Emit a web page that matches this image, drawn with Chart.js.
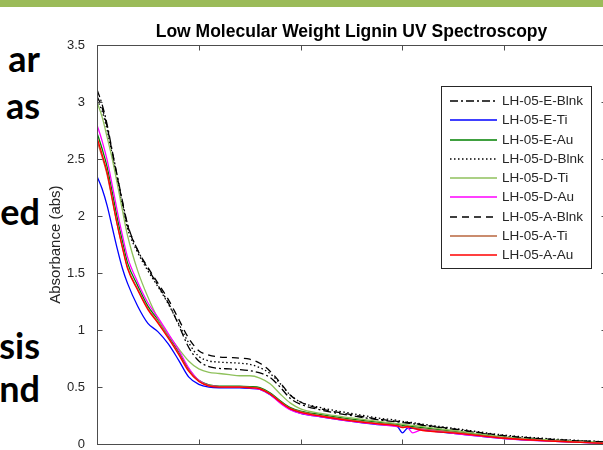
<!DOCTYPE html>
<html>
<head>
<meta charset="utf-8">
<script src="https://cdn.jsdelivr.net/npm/chart.js@4.4.0/dist/chart.umd.min.js"></script>
<style>
  html, body { margin: 0; padding: 0; width: 603px; height: 450px; overflow: hidden; background: #fff; }
  #bar { position: absolute; left: 0; top: 0; width: 603px; height: 7px; background: #9bbb59; }
  .slide { position: absolute; right: 563px; font: bold 36px Lato, 'Open Sans', sans-serif; color: #000; line-height: 36px; white-space: nowrap; }
  #wrap { position: absolute; left: 0; top: 0; width: 615px; height: 464px; }
</style>
</head>
<body>
<div id="bar"></div>
<div class="slide" style="top:40px">ar</div>
<div class="slide" style="top:87px">as</div>
<div class="slide" style="top:193px">ed</div>
<div class="slide" style="top:327px">sis</div>
<div class="slide" style="top:370px">nd</div>
<div id="wrap"><canvas id="uvChart" width="615" height="464"></canvas></div>
<script>
// Wavelength grid (nm) - the x tick labels are cut off in the source picture
const wavelengths = [200, 205, 210, 215, 220, 225, 230, 240, 250, 260, 270, 280, 290, 300, 310, 320, 330, 340,
    350, 360, 370, 380, 390, 400, 420, 450, 480, 495, 500, 505, 510, 520, 550, 600, 650, 697];

// Absorbance readings, one array per sample
const eBlnk = [3.11, 2.98, 2.80, 2.57, 2.35, 2.13, 1.93, 1.70, 1.54, 1.39, 1.24, 1.05, 0.85, 0.73, 0.68, 0.665, 0.66, 0.655,
    0.645, 0.625, 0.585, 0.50, 0.40, 0.35, 0.30, 0.25, 0.21, 0.195, 0.19, 0.185, 0.18, 0.165, 0.13, 0.07, 0.04, 0.02];
const eTi = [2.35, 2.24, 2.09, 1.90, 1.71, 1.54, 1.41, 1.21, 1.06, 0.985, 0.88, 0.74, 0.59, 0.525, 0.50, 0.495, 0.495, 0.495,
    0.49, 0.48, 0.435, 0.365, 0.305, 0.27, 0.24, 0.20, 0.17, 0.155, 0.10, 0.14, 0.14, 0.125, 0.095, 0.05, 0.025, 0.008];
const eAu = [2.73, 2.59, 2.43, 2.21, 1.98, 1.78, 1.59, 1.39, 1.21, 1.09, 0.95, 0.81, 0.66, 0.56, 0.52, 0.51, 0.51, 0.51,
    0.505, 0.495, 0.45, 0.38, 0.32, 0.29, 0.26, 0.22, 0.19, 0.175, 0.165, 0.16, 0.155, 0.145, 0.115, 0.06, 0.03, 0.012];
const dBlnk = [3.02, 2.92, 2.75, 2.53, 2.31, 2.09, 1.89, 1.68, 1.52, 1.38, 1.23, 1.06, 0.89, 0.77, 0.73, 0.72, 0.715, 0.71,
    0.70, 0.67, 0.62, 0.53, 0.43, 0.37, 0.32, 0.27, 0.225, 0.21, 0.20, 0.195, 0.19, 0.175, 0.14, 0.08, 0.045, 0.022];
const dTi = [3.00, 2.87, 2.69, 2.50, 2.28, 2.05, 1.83, 1.52, 1.29, 1.10, 0.96, 0.84, 0.73, 0.66, 0.63, 0.62, 0.61, 0.60,
    0.60, 0.58, 0.53, 0.44, 0.36, 0.31, 0.27, 0.23, 0.195, 0.18, 0.175, 0.17, 0.165, 0.155, 0.12, 0.065, 0.035, 0.015];
const dAu = [2.80, 2.66, 2.49, 2.27, 2.04, 1.83, 1.64, 1.42, 1.24, 1.11, 0.97, 0.83, 0.67, 0.56, 0.515, 0.505, 0.50, 0.50,
    0.495, 0.48, 0.435, 0.36, 0.30, 0.27, 0.24, 0.20, 0.17, 0.155, 0.15, 0.145, 0.10, 0.13, 0.095, 0.05, 0.025, 0.01];
const aBlnk = [3.05, 2.95, 2.78, 2.56, 2.34, 2.12, 1.92, 1.70, 1.55, 1.41, 1.27, 1.10, 0.93, 0.82, 0.78, 0.765, 0.76, 0.755,
    0.745, 0.71, 0.64, 0.54, 0.43, 0.37, 0.31, 0.26, 0.215, 0.20, 0.195, 0.19, 0.185, 0.17, 0.135, 0.075, 0.04, 0.02];
const aTi = [2.66, 2.52, 2.36, 2.14, 1.92, 1.73, 1.55, 1.36, 1.19, 1.07, 0.94, 0.80, 0.65, 0.555, 0.515, 0.505, 0.505, 0.505,
    0.50, 0.49, 0.445, 0.375, 0.315, 0.285, 0.25, 0.21, 0.18, 0.165, 0.155, 0.15, 0.145, 0.135, 0.105, 0.055, 0.028, 0.01];
const aAu = [2.69, 2.54, 2.38, 2.15, 1.92, 1.72, 1.54, 1.35, 1.18, 1.06, 0.93, 0.79, 0.64, 0.55, 0.51, 0.50, 0.50, 0.50,
    0.495, 0.485, 0.44, 0.37, 0.31, 0.28, 0.245, 0.205, 0.175, 0.16, 0.145, 0.155, 0.14, 0.12, 0.10, 0.052, 0.026, 0.008];

const seriesLabels = ['LH-05-E-Blnk', 'LH-05-E-Ti', 'LH-05-E-Au', 'LH-05-D-Blnk', 'LH-05-D-Ti',
    'LH-05-D-Au', 'LH-05-A-Blnk', 'LH-05-A-Ti', 'LH-05-A-Au'];
const seriesValues = [eBlnk, eTi, eAu, dBlnk, dTi, dAu, aBlnk, aTi, aAu];

const chartTitle = 'Low Molecular Weight Lignin UV Spectroscopy';
const yTickValues = [0, 0.5, 1, 1.5, 2, 2.5, 3, 3.5];
const yTickLabels = ['0', '0.5', '1', '1.5', '2', '2.5', '3', '3.5'];
const xTickValues = [200, 300, 400, 500, 600, 700];

// line look, MATLAB style
const lineColors = ['#000000', '#0000ff', '#008000', '#000000', '#8fc15c', '#ff00ff', '#000000', '#b8663e', '#ff0000'];
const lineDashes = [[8, 3, 2, 3], [], [], [1.5, 2.5], [], [], [7, 5], [], []];

const axisColor = '#4d4d4d';
const textColor = '#262626';
const fontFamily = '"Liberation Sans", Arial, sans-serif';

const datasets = seriesValues.map((vals, i) => ({
    label: seriesLabels[i],
    data: vals.map((v, j) => ({ x: wavelengths[j], y: v })),
    borderColor: lineColors[i],
    borderDash: lineDashes[i],
    borderWidth: 1.3,
    pointRadius: 0,
    cubicInterpolationMode: 'monotone',
    fill: false,
    order: seriesValues.length - i
}));

// title centred over the plot box, box with inward ticks on all four sides
const matlabBox = {
    id: 'matlabBox',
    afterDatasetsDraw(chart) {
        const { ctx, chartArea: a, scales: { x, y } } = chart;
        const L = Math.round(a.left) + 0.5, R = Math.round(a.right) + 0.5;
        const T = Math.round(a.top) + 0.5, B = Math.round(a.bottom) + 0.5;
        ctx.save();
        ctx.fillStyle = '#000';
        ctx.font = 'bold 17.5px ' + fontFamily;
        ctx.textAlign = 'center';
        ctx.textBaseline = 'middle';
        ctx.fillText(chartTitle, (a.left + a.right) / 2, a.top - 13);

        ctx.strokeStyle = axisColor;
        ctx.lineWidth = 1;
        ctx.strokeRect(L, T, R - L, B - T);
        ctx.beginPath();
        xTickValues.forEach(v => {
            const px = Math.round(x.getPixelForValue(v)) + 0.5;
            ctx.moveTo(px, B); ctx.lineTo(px, B - 5);
            ctx.moveTo(px, T); ctx.lineTo(px, T + 5);
        });
        yTickValues.forEach(v => {
            const py = Math.round(y.getPixelForValue(v)) + 0.5;
            ctx.moveTo(L, py); ctx.lineTo(L + 5, py);
            ctx.moveTo(R, py); ctx.lineTo(R - 5, py);
        });
        ctx.stroke();
        ctx.restore();
    }
};

// legend box inside the plot, top right
const legendBox = {
    id: 'legendBox',
    afterDraw(chart) {
        const { ctx, chartArea: a } = chart;
        const left = Math.round(a.right) - 165, top = Math.round(a.top) + 41, w = 150, h = 182;
        ctx.save();
        ctx.fillStyle = '#fff';
        ctx.fillRect(left, top, w, h);
        ctx.strokeStyle = textColor;
        ctx.lineWidth = 1;
        ctx.strokeRect(left + 0.5, top + 0.5, w, h);
        ctx.font = '13.5px ' + fontFamily;
        ctx.textBaseline = 'middle';
        chart.data.datasets.forEach((ds, i) => {
            const yy = Math.round(top + 15 + i * 19.25);
            ctx.strokeStyle = lineColors[i];
            ctx.lineWidth = 1.5;
            ctx.setLineDash(lineDashes[i]);
            ctx.beginPath();
            ctx.moveTo(left + 9, yy);
            ctx.lineTo(left + 56, yy);
            ctx.stroke();
            ctx.setLineDash([]);
            ctx.fillStyle = textColor;
            ctx.fillText(ds.label, left + 61, yy);
        });
        ctx.restore();
    }
};

new Chart(document.getElementById('uvChart'), {
    type: 'line',
    data: { datasets: datasets },
    plugins: [matlabBox, legendBox],
    options: {
        responsive: false,
        animation: false,
        layout: { padding: { left: 44, top: 45, right: 9, bottom: 7 } },
        scales: {
            x: {
                type: 'linear',
                min: 200,
                max: 700,
                display: false
            },
            y: {
                type: 'linear',
                min: 0,
                max: 3.5,
                afterFit: s => { s.width = 53; },
                afterBuildTicks: s => { s.ticks = yTickValues.map(v => ({ value: v })); },
                grid: { display: false, drawTicks: false },
                border: { display: false },
                ticks: {
                    padding: 12,
                    color: textColor,
                    font: { family: fontFamily, size: 13 },
                    callback: (v) => yTickLabels[yTickValues.indexOf(v)]
                },
                title: {
                    display: true,
                    text: 'Absorbance (abs)',
                    color: textColor,
                    font: { family: fontFamily, size: 15 },
                    padding: { top: 3, bottom: 4 }
                }
            }
        },
        plugins: {
            legend: { display: false },
            tooltip: { enabled: false },
            title: { display: false }
        }
    }
});
</script>
</body>
</html>
